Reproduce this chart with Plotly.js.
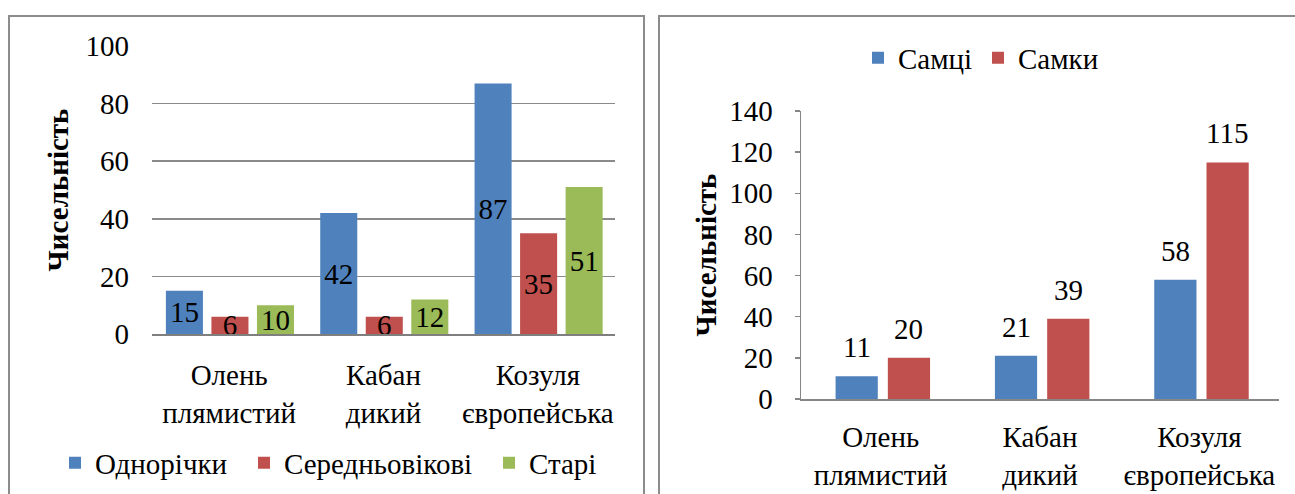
<!DOCTYPE html>
<html>
<head>
<meta charset="utf-8">
<script src="https://cdn.plot.ly/plotly-3.0.1.min.js"></script>
<style>
  html, body { margin: 0; padding: 0; background: #fff; }
  #chart { width: 1295px; height: 494px; }
</style>
</head>
<body>
<div id="chart"></div>
<script>
// Categories (two-line tick labels)
const species = ['Олень<br>плямистий', 'Кабан<br>дикий', 'Козуля<br>європейська'];

// Age structure
const ageGroups = ['Однорічки', 'Середньовікові', 'Старі'];
const yearlings = [15, 42, 87];
const middleAged = [6, 6, 35];
const oldAnimals = [10, 12, 51];
const ageTicks = [0, 20, 40, 60, 80, 100];

// Sex structure
const sexGroups = ['Самці', 'Самки'];
const males = [11, 21, 58];
const females = [20, 39, 115];
const sexTicks = [0, 20, 40, 60, 80, 100, 120, 140];

const axisTitle = 'Чисельність';

// ---- layout helpers (pixel -> paper) ----
const W = 1295, H = 494;
const px = v => v / W;
const py = v => 1 - v / H;
const FONT = '"Liberation Serif", Tinos, "Times New Roman", Times, "Nimbus Roman", FreeSerif, "Noto Serif", serif';
const TXT = 29;
const BLUE = '#4F81BD', RED = '#C0504D', GREEN = '#9BBB59';
const GRID = '#8a8a8a';

const insideLabel = {
  texttemplate: '%{y}',
  textposition: 'inside',
  insidetextanchor: 'middle',
  textangle: 0,
  constraintext: 'none',
  textfont: { family: FONT, size: TXT, color: '#000' },
  hoverinfo: 'skip'
};

const traces = [
  Object.assign({ type: 'bar', name: ageGroups[0], x: species, y: yearlings,
    xaxis: 'x', yaxis: 'y', legend: 'legend', legendwidth: 144,
    width: 0.24, offset: -0.41, marker: { color: BLUE } }, insideLabel),
  Object.assign({ type: 'bar', name: ageGroups[1], x: species, y: middleAged,
    xaxis: 'x', yaxis: 'y', legend: 'legend', legendwidth: 200,
    width: 0.24, offset: -0.115, marker: { color: RED } }, insideLabel),
  Object.assign({ type: 'bar', name: ageGroups[2], x: species, y: oldAnimals,
    xaxis: 'x', yaxis: 'y', legend: 'legend',
    width: 0.24, offset: 0.18, marker: { color: GREEN } }, insideLabel),

  { type: 'bar', name: sexGroups[0], x: species, y: males,
    xaxis: 'x2', yaxis: 'y2', legend: 'legend2', legendwidth: 75,
    width: 0.265, offset: -0.283, marker: { color: BLUE }, hoverinfo: 'skip' },
  { type: 'bar', name: sexGroups[1], x: species, y: females,
    xaxis: 'x2', yaxis: 'y2', legend: 'legend2',
    width: 0.265, offset: 0.045, marker: { color: RED }, hoverinfo: 'skip' }
];

// value labels above the bars of the sex chart
const valueLabel = (v, i, shift) => ({
  xref: 'x2', yref: 'y2', x: species[i], y: v, text: String(v),
  showarrow: false, xanchor: 'center', yanchor: 'bottom',
  xshift: shift, yshift: 11,
  font: { family: FONT, size: TXT, color: '#000' }
});
const annotations = []
  .concat(males.map((v, i) => valueLabel(v, i, -24)))
  .concat(females.map((v, i) => valueLabel(v, i, 28)));

const tickFont = { family: FONT, size: TXT, color: '#000' };
const titleFont = { family: FONT, size: TXT, color: '#000', weight: 'bold' };
const legendBase = {
  orientation: 'h', xanchor: 'left', yanchor: 'middle',
  font: { family: FONT, size: TXT, color: '#000' },
  bgcolor: 'rgba(0,0,0,0)', itemwidth: 30, traceorder: 'normal',
  itemclick: false, itemdoubleclick: false
};

const layout = {
  width: W, height: H,
  margin: { l: 0, r: 0, t: 0, b: 0 },
  paper_bgcolor: '#fff', plot_bgcolor: 'rgba(0,0,0,0)',
  barmode: 'overlay',
  font: { family: FONT, size: TXT, color: '#000' },
  showlegend: true,

  xaxis: {
    domain: [px(152), px(615)], anchor: 'y', type: 'category',
    range: [-0.5, 2.5],
    showline: true, linecolor: '#7f7f7f', linewidth: 2,
    showgrid: false, zeroline: false, ticks: '',
    ticklabelstandoff: 14, tickfont: tickFont, fixedrange: true
  },
  yaxis: {
    domain: [py(334), py(46)], anchor: 'x', range: [0, 100],
    tickmode: 'array', tickvals: ageTicks, ticktext: ageTicks.map(String),
    showgrid: true, gridcolor: GRID, gridwidth: 1.5,
    showline: false, zeroline: false, ticks: '',
    ticklabelstandoff: 22, tickfont: tickFont, fixedrange: true,
    title: { text: axisTitle, font: titleFont, standoff: 8 }
  },
  xaxis2: {
    domain: [px(801), px(1279)], anchor: 'y2', type: 'category',
    range: [-0.5, 2.5],
    showline: true, linecolor: '#868686', linewidth: 1.5,
    showgrid: false, zeroline: false, ticks: '',
    ticklabelstandoff: 12, tickfont: tickFont, fixedrange: true
  },
  yaxis2: {
    domain: [py(399), py(111)], anchor: 'x2', range: [0, 140],
    tickmode: 'array', tickvals: sexTicks, ticktext: sexTicks.map(String),
    showgrid: false, showline: true, linecolor: '#868686', linewidth: 1.5,
    zeroline: false, ticks: 'outside', ticklen: 5, tickwidth: 1.5, tickcolor: '#868686',
    ticklabelstandoff: 16, tickfont: tickFont, fixedrange: true,
    title: { text: axisTitle, font: titleFont, standoff: 4 }
  },

  legend: Object.assign({ x: px(55), y: py(463) }, legendBase),
  legend2: Object.assign({ x: px(858), y: py(58) }, legendBase),

  annotations: annotations,

  shapes: [
    { type: 'rect', xref: 'paper', yref: 'paper', layer: 'below',
      x0: px(9), x1: px(644), y0: py(16), y1: py(520),
      line: { color: '#8c8c8c', width: 2 }, fillcolor: 'rgba(0,0,0,0)' },
    { type: 'rect', xref: 'paper', yref: 'paper', layer: 'below',
      x0: px(659), x1: px(1320), y0: py(16), y1: py(520),
      line: { color: '#8c8c8c', width: 2 }, fillcolor: 'rgba(0,0,0,0)' }
  ]
};

Plotly.newPlot('chart', traces, layout, { staticPlot: true, displayModeBar: false });
</script>
</body>
</html>
